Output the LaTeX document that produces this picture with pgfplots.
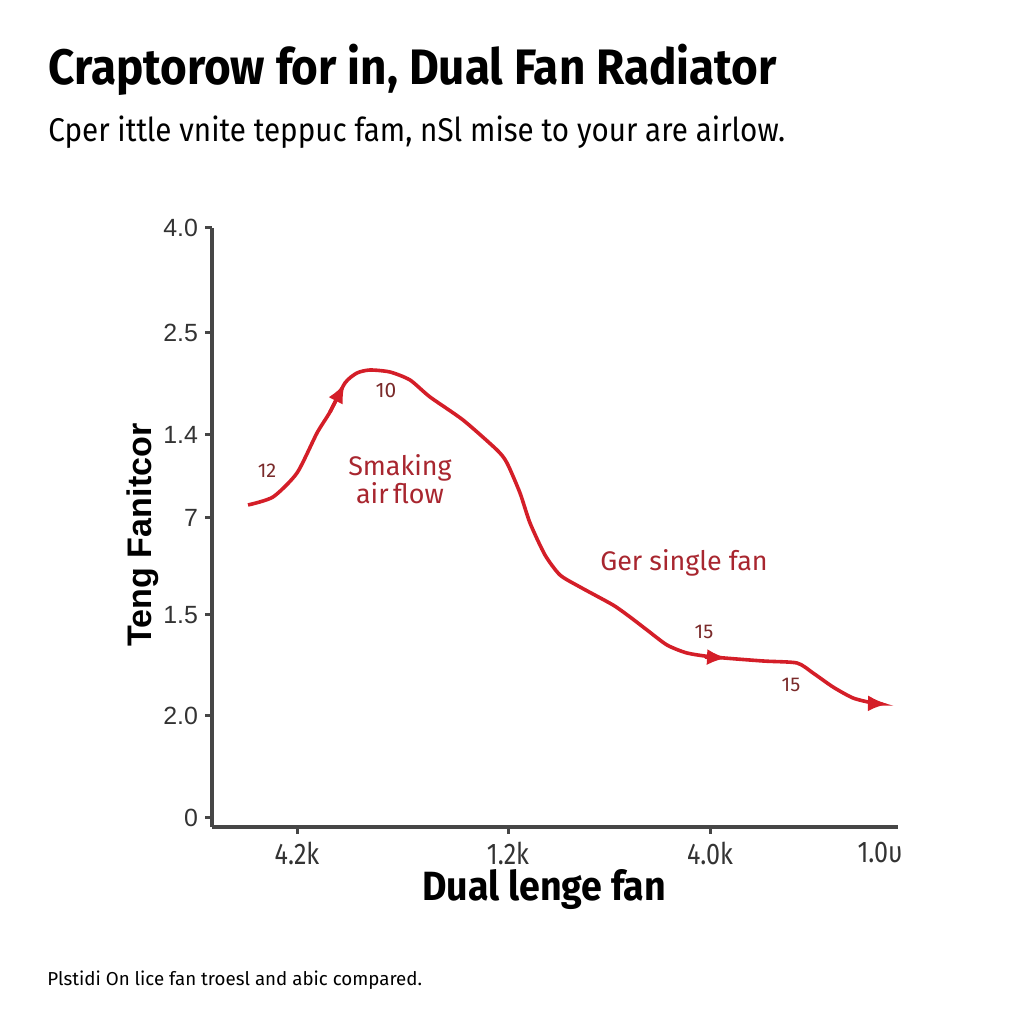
\documentclass[border=0pt]{standalone}
\usepackage{pgfplots}
\pgfplotsset{compat=1.18}
\usepackage{fontspec}
\setmainfont{Fira Sans}
\newfontfamily\cond[FakeStretch=0.84]{Fira Sans}
\newfontfamily\condt[FakeStretch=0.92]{Fira Sans}
\newfontfamily\conds[FakeStretch=0.90]{Fira Sans}
\newfontfamily\arial{Liberation Sans}
\usetikzlibrary{arrows.meta}
\definecolor{curve}{HTML}{D41E28}
\definecolor{annot}{HTML}{A8262F}
\definecolor{numc}{HTML}{7A2A2A}
\definecolor{axgray}{HTML}{464646}
\definecolor{ticktext}{HTML}{333333}
\begin{document}
\begin{tikzpicture}
\path[use as bounding box] (0bp,0bp) rectangle (512bp,512bp);
\node[anchor=base west, inner sep=0pt] at (24bp,469.5bp) {\condt\bfseries\fontsize{25}{28}\selectfont Craptorow for in, Dual Fan Radiator};
\node[anchor=base west, inner sep=0pt] at (24bp,441bp) {\conds\fontsize{16.5}{19}\selectfont Cper ittle vnite teppuc fam, nSl mise to your are airlow.};
\node[anchor=base west, inner sep=0pt] at (23.5bp,19.5bp) {\fontsize{9.4}{11}\selectfont Plstidi On lice fan troesl and abic compared.};
\node[rotate=90, inner sep=0pt] at (71.5bp,244.5bp) {\arial\bfseries\fontsize{17.1}{19}\selectfont Teng Fanitcor};
\node[anchor=base, inner sep=0pt] at (272bp,61.5bp) {\condt\bfseries\fontsize{20.5}{22}\selectfont Dual lenge fan};
\begin{axis}[
  at={(106bp,98.5bp)}, anchor=south west,
  scale only axis, width=343bp, height=299.5bp,
  xmin=0, xmax=6.86, ymin=0, ymax=5.99,
  axis x line*=bottom, axis y line*=left,
  axis line style={axgray, line width=2bp, -},
  tick align=outside, major tick length=3.5bp,
  tick style={axgray, line width=1.5bp},
  xtick={0.85,2.96,4.98}, xticklabels={4.2k,1.2k,4.0k},
  extra x ticks={6.68}, extra x tick labels={1.0υ},
  extra x tick style={major tick length=0pt, xticklabel style={yshift=-3.5bp}},
  ytick={0.09,1.11,2.12,3.09,3.92,4.94,5.99},
  yticklabels={0,2.0,1.5,7,1.4,2.5,4.0},
  xticklabel style={font=\cond\fontsize{15}{17}\selectfont, text=ticktext, inner sep=1bp, yshift=-3bp},
  yticklabel style={font=\arial\fontsize{12.5}{14}\selectfont, text=ticktext},
  clip=false,
]
\addplot[curve, line width=1.8bp, smooth, tension=0.4, -{Latex[length=10bp,width=8bp]}] coordinates {
(0.36,3.22)(0.61,3.30)(0.85,3.54)(1.05,3.94)(1.18,4.15)(1.33,4.44)(1.45,4.54)(1.58,4.57)(1.78,4.55)(1.98,4.47)(2.18,4.30)(2.51,4.07)(2.85,3.77)(2.95,3.64)(3.08,3.34)(3.18,3.04)(3.33,2.72)(3.48,2.52)(3.68,2.40)(4.01,2.22)(4.18,2.10)(4.35,1.97)(4.55,1.82)(4.75,1.74)(5.01,1.70)(5.51,1.66)(5.85,1.64)(6.01,1.54)(6.21,1.40)(6.41,1.29)(6.61,1.24)(6.76,1.23)};
\addplot[curve, line width=1.8bp, -{Latex[length=10bp,width=8bp]}] coordinates {(1.18,4.15)(1.33,4.44)};
\addplot[curve, line width=1.8bp, -{Latex[length=10bp,width=8bp]}] coordinates {(4.93,1.70)(5.15,1.69)};
\node[text=numc, font=\fontsize{10.5}{12}\selectfont] at (axis cs:1.74,4.36) {10};
\node[text=numc, font=\fontsize{10}{12}\selectfont] at (axis cs:0.55,3.56) {12};
\node[text=numc, font=\fontsize{10}{12}\selectfont] at (axis cs:4.92,1.95) {15};
\node[text=numc, font=\fontsize{10}{12}\selectfont] at (axis cs:5.79,1.42) {15};
\node[text=annot, align=center, font=\fontsize{13.5}{14}\selectfont] at (axis cs:1.88,3.48) {Smaking\\air\,flow};
\node[text=annot, font=\fontsize{13.5}{16}\selectfont] at (axis cs:4.72,2.64) {Ger single fan};
\end{axis}
\end{tikzpicture}
\end{document}
